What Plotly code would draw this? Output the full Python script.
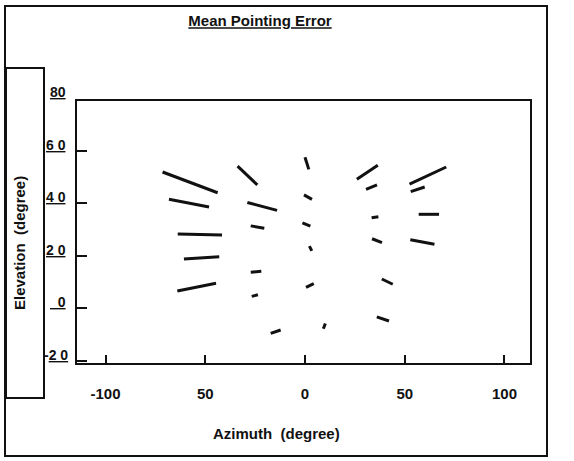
import plotly.graph_objects as go

# Segment endpoints (azimuth, elevation) in degrees
seg_x0 = [-71.4, -68.2, -63.8, -60.7, -64.0,
          -33.8, -28.9, -27.2, -27.2, -26.7, -17.2,
          0.0, -0.5, -1.3, 2.2, 0.5, 9.2,
          26.0, 30.6, 33.4, 33.6, 38.5, 36.0,
          52.4, 53.0, 57.0, 52.8]
seg_y0 = [51.9, 41.5, 28.3, 18.8, 6.6,
          54.1, 40.3, 31.4, 13.8, 4.6, -9.5,
          57.5, 43.2, 32.5, 23.7, 8.0, -7.7,
          49.1, 45.3, 34.5, 26.5, 11.2, -3.2,
          47.3, 44.4, 35.8, 26.1]
seg_x1 = [-43.8, -48.1, -41.6, -43.0, -44.6,
          -23.9, -14.0, -20.4, -21.9, -23.6, -12.2,
          1.9, 3.5, 2.7, 3.4, 4.4, 10.2,
          36.5, 36.1, 36.8, 38.6, 44.0, 42.1,
          70.8, 60.0, 67.2, 64.9]
seg_y1 = [44.0, 38.6, 27.9, 19.7, 9.6,
          47.0, 37.3, 30.5, 14.1, 5.2, -8.2,
          52.9, 41.5, 31.3, 21.9, 9.4, -5.7,
          54.5, 47.0, 34.9, 25.0, 9.2, -4.8,
          53.8, 46.2, 35.8, 24.4]

x_tickvals = [-100, -50, 0, 50, 100]
x_ticktext = ["-100", "50", "0", "50", "100"]
y_tickvals = [80, 60, 40, 20, 0, -20]
y_ticktext = ["<u>80</u>", "<u>6 0</u>", "<u>4 0</u>", "<u>2 0</u>",
              "<u>\u00a0\u00a00</u>", "-<u>2 0</u>"]

FONT = "Liberation Sans, Arial, sans-serif"
INK = "#111111"

X_RANGE = [-114.3, 112.8]
Y_RANGE = [-20.76, 78.9]

xs, ys = [], []
for a, b, c, d in zip(seg_x0, seg_y0, seg_x1, seg_y1):
    xs += [a, c, None]
    ys += [b, d, None]

fig = go.Figure()
fig.add_trace(go.Scatter(x=xs, y=ys, mode="lines",
                         line=dict(color=INK, width=3),
                         hoverinfo="skip", showlegend=False))

W, H = 574, 461
L, R, T, B = 77, 530, 101, 363

fig.update_layout(
    width=W, height=H, autosize=False,
    margin=dict(l=L, r=W - R, t=T, b=H - B),
    paper_bgcolor="white", plot_bgcolor="white",
    font=dict(family=FONT, color=INK),
    title=dict(text="<b><u>Mean Pointing Error</u></b>",
               x=260 / W, xanchor="center", y=1 - 21 / H, yanchor="middle",
               font=dict(size=15, family=FONT, color=INK)),
    showlegend=False,
)

fig.update_xaxes(range=X_RANGE, showgrid=False, zeroline=False,
                 showline=True, mirror=True, linecolor=INK, linewidth=2,
                 ticks="inside", ticklen=8, tickwidth=1.5, tickcolor=INK,
                 tickvals=x_tickvals, ticktext=x_ticktext,
                 tickfont=dict(size=15, family=FONT, color=INK, weight="bold"),
                 ticklabelstandoff=16)
fig.update_yaxes(range=Y_RANGE, showgrid=False, zeroline=False,
                 showline=True, mirror=True, linecolor=INK, linewidth=2,
                 ticks="inside", ticklen=10, tickwidth=1.5, tickcolor=INK,
                 tickvals=y_tickvals, showticklabels=False)


def px_x(p):
    return (p - L) / (R - L)


def px_y(p):
    return (B - p) / (B - T)


# y tick labels (left of the plot, slightly above each tick value)
for v, t in zip(y_tickvals, y_ticktext):
    yp = (v - Y_RANGE[0]) / (Y_RANGE[1] - Y_RANGE[0])
    right = 70 if v < 0 else 68
    fig.add_annotation(x=px_x(right), xref="paper", y=yp, yref="paper",
                       text="<b>" + t + "</b>", showarrow=False,
                       xanchor="right", yanchor="middle", yshift=6,
                       font=dict(size=14, family=FONT, color=INK))

fig.add_annotation(x=px_x(276), y=px_y(433), xref="paper", yref="paper",
                   text="<b>Azimuth\u00a0\u00a0(degree)</b>", showarrow=False,
                   xanchor="center", yanchor="middle",
                   font=dict(size=15, family=FONT, color=INK))
fig.add_annotation(x=px_x(19), y=px_y(243), xref="paper", yref="paper",
                   text="<b>Elevation\u00a0\u00a0(degree)</b>", showarrow=False,
                   textangle=-90, xanchor="center", yanchor="middle",
                   font=dict(size=15, family=FONT, color=INK))

# outer frame and y-title box
fig.add_shape(type="rect", xref="paper", yref="paper",
              x0=px_x(5), x1=px_x(547), y0=px_y(456), y1=px_y(6),
              line=dict(color=INK, width=2))
fig.add_shape(type="rect", xref="paper", yref="paper",
              x0=px_x(6), x1=px_x(44), y0=px_y(398), y1=px_y(68),
              line=dict(color=INK, width=2))

fig.write_html("out.html")
